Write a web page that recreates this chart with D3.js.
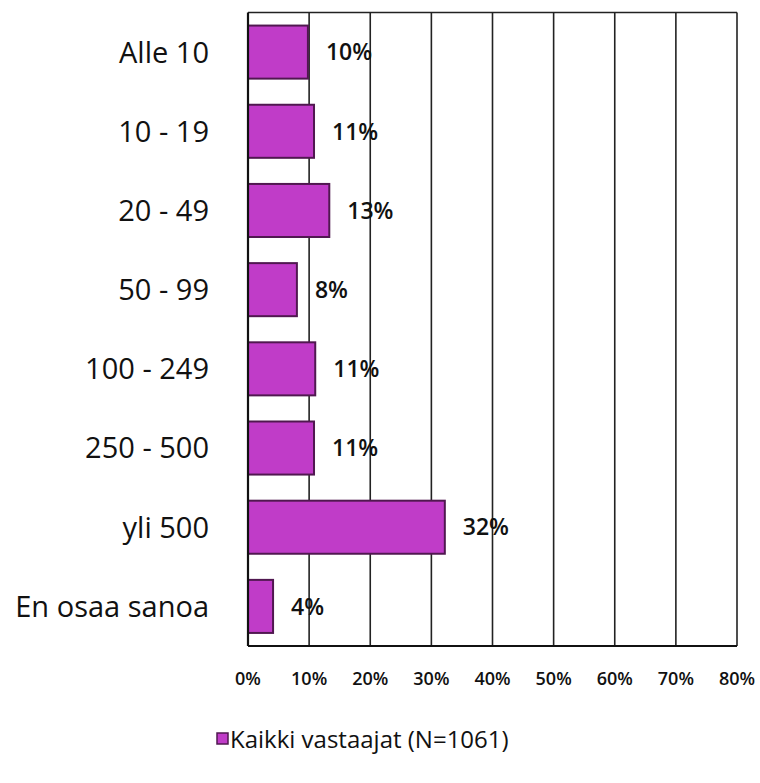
<!DOCTYPE html>
<html>
<head>
<meta charset="utf-8">
<script src="https://cdn.jsdelivr.net/npm/d3@7"></script>
<style>
  html, body { margin: 0; padding: 0; background: #fff; }
</style>
</head>
<body>
<div id="chart"></div>
<script>
// Category labels, top to bottom
const categories = ["Alle 10", "10 - 19", "20 - 49", "50 - 99", "100 - 249", "250 - 500", "yli 500", "En osaa sanoa"];
// Bar values (percent)
const values = [9.8, 10.8, 13.3, 8.0, 11.0, 10.8, 32.2, 4.1];
// Labels printed next to bars
const valueLabels = ["10%", "11%", "13%", "8%", "11%", "11%", "32%", "4%"];
const xTicks = [0, 10, 20, 30, 40, 50, 60, 70, 80];
const seriesName = "Kaikki vastaajat (N=1061)";

const W = 760, H = 783;
const plot = { left: 248, right: 737, top: 12.5, bottom: 646 };
const FONT = "'Open Sans', Tahoma, 'DejaVu Sans', sans-serif";
const BAR_FILL = "#c03cc8";
const BAR_STROKE = "#501850";

const svg = d3.select("#chart").append("svg")
  .attr("width", W).attr("height", H)
  .attr("font-family", FONT);

const x = d3.scaleLinear().domain([0, 80]).range([plot.left, plot.right]);
const y = d3.scaleBand().domain(categories).range([plot.top, plot.bottom]).paddingInner(0.33).paddingOuter(0.165);

// Gridlines
svg.append("g")
  .selectAll("line")
  .data(xTicks.slice(1))
  .join("line")
    .attr("x1", d => x(d)).attr("x2", d => x(d))
    .attr("y1", plot.top).attr("y2", plot.bottom)
    .attr("stroke", "#222").attr("stroke-width", 1.6);

// Plot frame: top and bottom
svg.append("line")
  .attr("x1", plot.left).attr("x2", plot.right)
  .attr("y1", plot.top).attr("y2", plot.top)
  .attr("stroke", "#222").attr("stroke-width", 1.6);
svg.append("line")
  .attr("x1", plot.left).attr("x2", plot.right)
  .attr("y1", plot.bottom).attr("y2", plot.bottom)
  .attr("stroke", "#111").attr("stroke-width", 2);

// Bars
svg.append("g")
  .selectAll("rect")
  .data(values)
  .join("rect")
    .attr("x", x(0))
    .attr("y", (d, i) => y(categories[i]))
    .attr("width", d => x(d) - x(0))
    .attr("height", y.bandwidth())
    .attr("fill", BAR_FILL)
    .attr("stroke", BAR_STROKE)
    .attr("stroke-width", 2);

// Left axis line
svg.append("line")
  .attr("x1", plot.left).attr("x2", plot.left)
  .attr("y1", plot.top).attr("y2", plot.bottom)
  .attr("stroke", "#111").attr("stroke-width", 2.2);

// Value labels
svg.append("g")
  .selectAll("text")
  .data(values)
  .join("text")
    .attr("x", d => x(d) + 18)
    .attr("y", (d, i) => y(categories[i]) + y.bandwidth() / 2)
    .attr("dy", "0.36em")
    .attr("font-size", 23)
    .attr("font-weight", 600)
    .attr("fill", "#111")
    .text((d, i) => valueLabels[i]);

// Category labels
svg.append("g")
  .selectAll("text")
  .data(categories)
  .join("text")
    .attr("x", 209)
    .attr("y", d => y(d) + y.bandwidth() / 2)
    .attr("dy", "0.36em")
    .attr("text-anchor", "end")
    .attr("font-size", 29)
    .attr("fill", "#111")
    .text(d => d);

// X tick labels
svg.append("g")
  .selectAll("text")
  .data(xTicks)
  .join("text")
    .attr("x", d => x(d))
    .attr("y", 685)
    .attr("text-anchor", "middle")
    .attr("font-size", 18)
    .attr("font-weight", 600)
    .attr("fill", "#111")
    .text(d => d + "%");

// Legend
const lg = svg.append("g").attr("transform", "translate(217,733)");
lg.append("rect")
  .attr("width", 11).attr("height", 11)
  .attr("fill", BAR_FILL).attr("stroke", BAR_STROKE).attr("stroke-width", 1.5);
lg.append("text")
  .attr("x", 13).attr("y", 6)
  .attr("dy", "0.36em")
  .attr("font-size", 24)
  .attr("fill", "#111")
  .text(seriesName);
</script>
</body>
</html>
